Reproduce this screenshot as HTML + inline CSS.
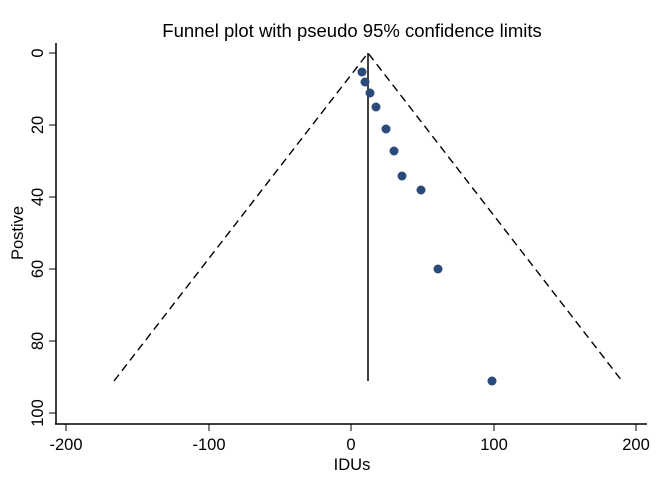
<!DOCTYPE html>
<html><head><style>body{margin:0;background:#fff}svg{display:block}</style></head><body>
<svg width="662" height="478" xmlns="http://www.w3.org/2000/svg" font-family="Liberation Sans, sans-serif">
<rect width="662" height="478" fill="#fff"/>
<text x="352" y="37" font-size="18.5" text-anchor="middle">Funnel plot with pseudo 95% confidence limits</text>
<g stroke="#000" stroke-width="1.5" fill="none">
<line x1="56" y1="43" x2="56" y2="424"/>
<line x1="55" y1="424" x2="647" y2="424"/>
<g stroke-width="1">
<line x1="49" y1="53" x2="56" y2="53"/><line x1="49" y1="125" x2="56" y2="125"/><line x1="49" y1="197" x2="56" y2="197"/><line x1="49" y1="269" x2="56" y2="269"/><line x1="49" y1="341" x2="56" y2="341"/><line x1="49" y1="413" x2="56" y2="413"/>
<line x1="66" y1="424" x2="66" y2="431"/><line x1="209" y1="424" x2="209" y2="431"/><line x1="351" y1="424" x2="351" y2="431"/><line x1="494" y1="424" x2="494" y2="431"/><line x1="636" y1="424" x2="636" y2="431"/>
</g>
<line x1="368" y1="53" x2="368" y2="381"/>
<polyline points="114,381 368,53 622,381" stroke-dasharray="8,5" stroke-width="1.4"/>
</g>
<g font-size="16.5" text-anchor="middle">
<text transform="translate(38,53) rotate(-90)" dy="5">0</text>
<text transform="translate(38,125) rotate(-90)" dy="5">20</text>
<text transform="translate(38,197) rotate(-90)" dy="5">40</text>
<text transform="translate(38,269) rotate(-90)" dy="5">60</text>
<text transform="translate(38,341) rotate(-90)" dy="5">80</text>
<text transform="translate(38,413) rotate(-90)" dy="5">100</text>
<text x="66" y="450">-200</text><text x="209" y="450">-100</text><text x="351" y="450">0</text><text x="494" y="450">100</text><text x="636" y="450">200</text>
<text x="352" y="470">IDUs</text>
<text transform="translate(23,233) rotate(-90)">Postive</text>
</g>
<g fill="#2a4a7c">
<circle cx="362" cy="72" r="4.5"/><circle cx="365" cy="82" r="4.5"/><circle cx="370" cy="93" r="4.5"/><circle cx="376" cy="107" r="4.5"/><circle cx="386" cy="129" r="4.5"/><circle cx="394" cy="151" r="4.5"/><circle cx="402" cy="176" r="4.5"/><circle cx="421" cy="190" r="4.5"/><circle cx="438" cy="269" r="4.5"/><circle cx="492" cy="381" r="4.5"/>
</g>
</svg>
</body></html>
